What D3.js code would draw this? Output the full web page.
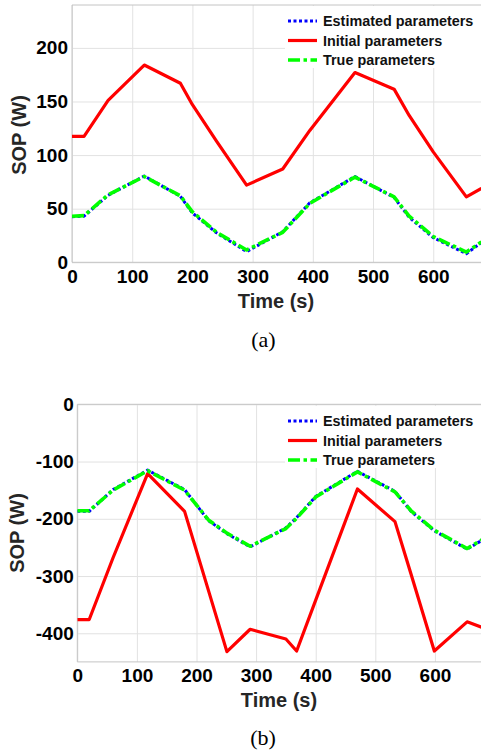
<!DOCTYPE html>
<html>
<head>
<meta charset="utf-8">
<script src="https://cdn.jsdelivr.net/npm/d3@7"></script>
<style>
  body { margin: 0; background: #fff; }
  svg text { font-family: "Liberation Sans", Arial, sans-serif; }
  svg text.caption { font-family: "Liberation Serif", "Times New Roman", serif; }
</style>
</head>
<body>
<svg width="481" height="750"></svg>
<script>

// panel (a)
const timeA = [0, 20, 60, 120, 180, 200, 240, 290, 350, 395, 470, 535, 560, 600, 655, 680];
const estimatedA = [42.5, 43, 62.5, 80.5, 61.5, 46, 27.5, 10, 28.5, 55.5, 80, 60.5, 42, 23, 8, 18.5];
const initialA = [117.5, 117.5, 151, 184, 167, 147, 113, 72, 87, 123, 177, 161.5, 137, 103, 61, 69];
const trueA = [43, 43.5, 63, 80, 62, 47, 28, 11.5, 28, 55, 79.5, 61, 43, 24, 9.5, 19];
const yTicksA = [0, 50, 100, 150, 200];

// panel (b)
const timeB = [0, 20, 60, 118, 180, 220, 251, 290, 350, 368, 400, 470, 533, 560, 599, 654, 680];
const estimatedB = [-187, -187, -149, -115, -149, -203, -226, -249, -216, -198, -161, -117, -152, -187, -221, -253, -237];
const initialB = [-376, -376, -268, -121, -187, -325, -432, -393, -410, -431, -342, -148, -205, -297, -431, -380, -390];
const trueB = [-186, -186, -150, -116, -150, -202, -225, -248, -217, -199, -162, -118, -153, -186, -220, -252, -236];
const yTicksB = [0, -100, -200, -300, -400];

const xTicks = [0, 100, 200, 300, 400, 500, 600];
const legendNames = ['Estimated parameters', 'Initial parameters', 'True parameters'];

const svg = d3.select('svg');

// line styles, in legend order
const styles = [
    {color: '#0000ff', width: 3, dash: '3,2.5'},
    {color: '#ff0000', width: 3.2, dash: null},
    {color: '#00ff00', width: 3.6, dash: '12,3.5,3.5,3.5'}
];

function drawPanel(p) {
    const x = d3.scaleLinear().domain([0, 680]).range([p.left, p.right]);
    const y = d3.scaleLinear().domain(p.yDomain).range([p.bottom, p.top]);
    const g = svg.append('g');

    // grid
    g.append('g')
        .attr('transform', `translate(0,${p.bottom})`)
        .call(d3.axisBottom(x).tickValues(xTicks).tickSize(-(p.bottom - p.top)).tickFormat(''))
        .call(a => a.select('.domain').remove())
        .selectAll('line').attr('stroke', '#e2e2e2');
    g.append('g')
        .attr('transform', `translate(${p.left},0)`)
        .call(d3.axisLeft(y).tickValues(p.yTicks).tickSize(-(p.right - p.left)).tickFormat(''))
        .call(a => a.select('.domain').remove())
        .selectAll('line').attr('stroke', '#e2e2e2');

    // frame
    g.append('path')
        .attr('d', `M${p.right},${p.top}H${p.left}V${p.bottom}H${p.right}`)
        .attr('fill', 'none')
        .attr('stroke', '#c4c4c4');

    // series
    const clipId = 'clip' + p.name;
    svg.append('clipPath').attr('id', clipId)
        .append('rect')
        .attr('x', p.left).attr('y', p.top)
        .attr('width', p.right - p.left).attr('height', p.bottom - p.top);

    const line = d3.line()
        .x((d, i) => x(p.time[i]))
        .y(d => y(d));

    [0, 1, 2].forEach(k => {
        g.append('path')
            .datum(p.series[k])
            .attr('clip-path', `url(#${clipId})`)
            .attr('d', line)
            .attr('fill', 'none')
            .attr('stroke', styles[k].color)
            .attr('stroke-width', styles[k].width)
            .attr('stroke-dasharray', styles[k].dash)
            .attr('stroke-linejoin', 'round');
    });

    // tick labels (plain hyphen for negatives, like the original)
    const xAxis = g.append('g')
        .attr('transform', `translate(0,${p.bottom})`)
        .call(d3.axisBottom(x).tickValues(xTicks).tickSize(0).tickPadding(7).tickFormat(d => String(d)));
    xAxis.select('.domain').remove();
    xAxis.selectAll('text')
        .attr('font-size', 19).attr('font-weight', 'bold').attr('fill', '#000');

    const yAxis = g.append('g')
        .attr('transform', `translate(${p.left},0)`)
        .call(d3.axisLeft(y).tickValues(p.yTicks).tickSize(0).tickPadding(p.yPad).tickFormat(d => String(d)));
    yAxis.select('.domain').remove();
    yAxis.selectAll('text')
        .attr('font-size', 19).attr('font-weight', 'bold').attr('fill', '#000');

    g.append('text')
        .attr('x', p.xTitle[0]).attr('y', p.xTitle[1])
        .attr('text-anchor', 'middle')
        .attr('font-size', 20).attr('font-weight', 'bold').attr('fill', '#262626')
        .text('Time (s)');

    g.append('text')
        .attr('transform', `translate(${p.yTitle[0]},${p.yTitle[1]}) rotate(-90)`)
        .attr('text-anchor', 'middle')
        .attr('dy', '0.35em')
        .attr('font-size', 20).attr('font-weight', 'bold').attr('fill', '#262626')
        .text('SOP (W)');

    g.append('text')
        .attr('class', 'caption')
        .attr('x', p.caption[0]).attr('y', p.caption[1])
        .attr('text-anchor', 'middle')
        .attr('font-size', 22).attr('fill', '#000')
        .text(p.label);

    // legend
    const lg = g.append('g');
    lg.append('rect')
        .attr('x', 285).attr('y', p.legendTop - 15)
        .attr('width', 481 - 285).attr('height', 62)
        .attr('fill', '#fff');
    legendNames.forEach((name, k) => {
        const cy = p.legendTop + k * 19.5;
        lg.append('line')
            .attr('x1', 288).attr('x2', 317)
            .attr('y1', cy).attr('y2', cy)
            .attr('stroke', styles[k].color)
            .attr('stroke-width', styles[k].width)
            .attr('stroke-dasharray', styles[k].dash);
        lg.append('text')
            .attr('x', 323).attr('y', cy)
            .attr('dy', '0.36em')
            .attr('font-size', 14.4).attr('font-weight', 'bold').attr('fill', '#111')
            .text(name);
    });
}

drawPanel({
    name: 'a', label: '(a)',
    left: 72, right: 481.4, top: 5, bottom: 262.3,
    yDomain: [0, 240], yTicks: yTicksA, yPad: 4,
    time: timeA, series: [estimatedA, initialA, trueA],
    xTitle: [276, 308], yTitle: [19, 135], caption: [263.5, 347],
    legendTop: 21
});

drawPanel({
    name: 'b', label: '(b)',
    left: 77.3, right: 482.6, top: 404.3, bottom: 661.9,
    yDomain: [-450, 0], yTicks: yTicksB, yPad: 3.5,
    time: timeB, series: [estimatedB, initialB, trueB],
    xTitle: [279, 707], yTitle: [17, 533], caption: [263, 745],
    legendTop: 421
});

</script>
</body>
</html>
